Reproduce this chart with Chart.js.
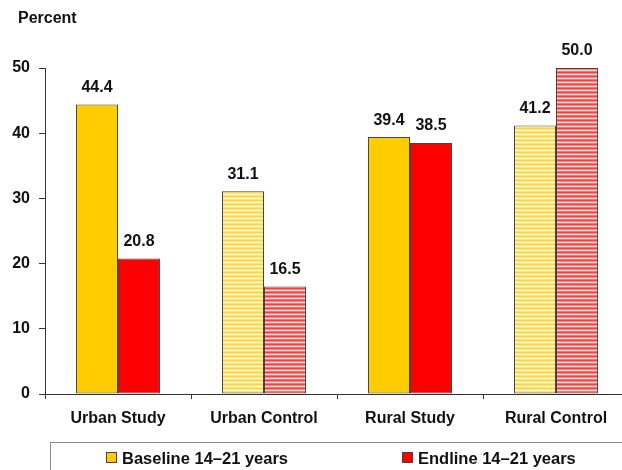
<!DOCTYPE html>
<html>
<head>
<meta charset="utf-8">
<script src="https://cdn.jsdelivr.net/npm/chart.js@4.4.1/dist/chart.umd.min.js"></script>
<style>
  html, body { margin: 0; padding: 0; background: #fff; overflow: hidden; width: 622px; height: 470px; }
  #wrap { position: relative; width: 632px; height: 470px; }
  canvas { display: block; }
  .txt { position: absolute; font-family: "Liberation Sans", Arial, sans-serif; font-weight: bold; color: #111; white-space: nowrap; }
  #percent { left: 18px; top: 9px; font-size: 16px; line-height: 18px; }
  #legend { position: absolute; left: 50px; top: 442px; width: 600px; height: 40px; border: 1px solid #8a8a8a; box-sizing: border-box; }
  .lg { position: absolute; top: 448px; font-family: "Liberation Sans", Arial, sans-serif; font-weight: bold; font-size: 16.5px; color: #111; white-space: nowrap; line-height: 20px; }
  .sw { display: inline-block; width: 9px; height: 9px; border: 1px solid #444; margin-right: 5px; vertical-align: 1px; }
</style>
</head>
<body>
<div id="wrap">
  <canvas id="c" width="632" height="470"></canvas>
  <div id="percent" class="txt">Percent</div>
  <div id="legend"></div>
  <div class="lg" style="left:106px;"><span class="sw" style="background:#FFCC00"></span>Baseline 14–21 years</div>
  <div class="lg" style="left:402px;"><span class="sw" style="background:#FF0000"></span>Endline 14–21 years</div>
</div>
<script>
const categories = ["Urban Study", "Urban Control", "Rural Study", "Rural Control"];
const baselineValues = [44.4, 31.1, 39.4, 41.2];
const endlineValues = [20.8, 16.5, 38.5, 50.0];
const yTicks = [0, 10, 20, 30, 40, 50];
const seriesNames = ["Baseline 14–21 years", "Endline 14–21 years"];

function stripe(colors) {
  const p = document.createElement('canvas');
  p.width = 4; p.height = colors.length;
  const g = p.getContext('2d');
  colors.forEach((c, i) => { g.fillStyle = c; g.fillRect(0, i, 4, 1); });
  return document.getElementById('c').getContext('2d').createPattern(p, 'repeat');
}
const yellowStripe = stripe(['#FFD43A', '#FFE789', '#FFF7DC', '#FFE27A']);
const redStripe = stripe(['#FF3A3A', '#FF8A8A', '#FFDCDC', '#FF7070']);

const valueLabels = {
  id: 'valueLabels',
  afterDatasetsDraw(chart) {
    const ctx = chart.ctx;
    ctx.save();
    ctx.font = 'bold 16px "Liberation Sans", Arial, sans-serif';
    ctx.fillStyle = '#111';
    ctx.textAlign = 'center';
    ctx.textBaseline = 'middle';
    chart.data.datasets.forEach((ds, di) => {
      chart.getDatasetMeta(di).data.forEach((bar, i) => {
        ctx.fillText(ds.data[i].toFixed(1), bar.x, bar.y - 17);
      });
    });
    ctx.restore();
  }
};

new Chart(document.getElementById('c'), {
  type: 'bar',
  data: {
    labels: categories,
    datasets: [
      { label: seriesNames[0], data: baselineValues,
        backgroundColor: ['#FFCC00', yellowStripe, '#FFCC00', yellowStripe],
        borderColor: '#444', borderWidth: 1, borderSkipped: false },
      { label: seriesNames[1], data: endlineValues,
        backgroundColor: ['#FF0000', redStripe, '#FF0000', redStripe],
        borderColor: '#444', borderWidth: 1, borderSkipped: false }
    ]
  },
  options: {
    responsive: false,
    animation: false,
    events: [],
    layout: { padding: { top: 68, left: 0, right: 3, bottom: 0 } },
    datasets: { bar: { categoryPercentage: 0.575, barPercentage: 1.0 } },
    plugins: { legend: { display: false }, tooltip: { enabled: false }, title: { display: false } },
    scales: {
      x: {
        offset: true,
        grid: { display: true, offset: true, drawOnChartArea: false, drawTicks: true, tickLength: 5, color: '#333', lineWidth: 1 },
        border: { display: true, color: '#333', width: 1 },
        ticks: { color: '#111', padding: 10, font: { family: '"Liberation Sans", Arial, sans-serif', weight: 'bold', size: 16 } },
        afterFit(s) { s.height = 76; }
      },
      y: {
        min: 0, max: 50,
        afterBuildTicks(s) { s.ticks = yTicks.map(v => ({ value: v })); },
        grid: { display: true, drawOnChartArea: false, drawTicks: true, tickLength: 6, color: '#333' },
        border: { display: true, color: '#333', width: 1 },
        ticks: { color: '#111', padding: 9, font: { family: '"Liberation Sans", Arial, sans-serif', weight: 'bold', size: 16 } },
        afterFit(s) { s.width = 45; }
      }
    }
  },
  plugins: [valueLabels]
});
</script>
</body>
</html>
